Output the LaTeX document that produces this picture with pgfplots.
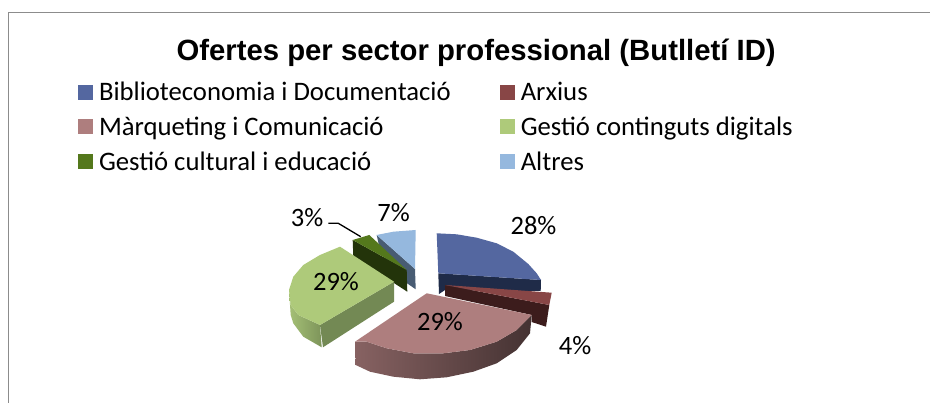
\documentclass[border=0pt]{standalone}
\usepackage{pgfplots}
\pgfplotsset{compat=1.18}
\usepackage{fontspec}
\setmainfont{Carlito}
\newfontfamily\arialfont{Liberation Sans}
\definecolor{cblue}{RGB}{84,103,160}
\definecolor{cblueS}{RGB}{31,43,72}
\definecolor{cred}{RGB}{136,70,70}
\definecolor{credS}{RGB}{60,28,28}
\definecolor{cpink}{RGB}{174,126,126}
\definecolor{cpinkL}{RGB}{135,98,98}
\definecolor{cpinkR}{RGB}{68,50,50}
\definecolor{cgreen}{RGB}{174,202,122}
\definecolor{cgreenL}{RGB}{165,192,118}
\definecolor{cgreenR}{RGB}{125,148,90}
\definecolor{cgreenF}{RGB}{115,137,84}
\definecolor{cdg}{RGB}{84,120,28}
\definecolor{cdgS}{RGB}{35,52,10}
\definecolor{clb}{RGB}{149,184,222}
\definecolor{clbS}{RGB}{72,92,115}
\begin{document}
\begin{tikzpicture}
\begin{axis}[
  scale only axis, width=930pt, height=403pt,
  xmin=0, xmax=930, ymin=0, ymax=403, y dir=reverse,
  axis lines=none, clip=true,
  title={\arialfont\bfseries Ofertes per sector professional (Butlletí ID)},
  title style={at={(axis description cs:0.512,0.853)}, anchor=center, font=\fontsize{29.3}{34}\selectfont},
  legend columns=2,
  legend style={draw=none, fill=none, at={(axis cs:78,80)}, anchor=north west, inner sep=0pt, outer sep=0pt,
    font=\fontsize{26.7}{30}\selectfont, cells={anchor=west},
    /tikz/row sep=10.7pt,
    /tikz/column 1/.style={column sep=4pt},
    /tikz/column 3/.style={column sep=4pt},
    /tikz/column 2/.style={column sep=47pt}},
  legend image code/.code={\fill[#1] (0pt,-7.5pt) rectangle (15pt,7.5pt);},
]
\addlegendimage{fill=cblue,draw=none}\addlegendentry{Biblioteconomia i Documentació}
\addlegendimage{fill=cred,draw=none}\addlegendentry{Arxius}
\addlegendimage{fill=cpink,draw=none}\addlegendentry{Màrqueting i Comunicació}
\addlegendimage{fill=cgreen,draw=none}\addlegendentry{Gestió continguts digitals}
\addlegendimage{fill=cdg,draw=none}\addlegendentry{Gestió cultural i educació}
\addlegendimage{fill=clb,draw=none}\addlegendentry{Altres}
% page
\addplot[forget plot, fill=white, draw=none] coordinates {(0,0)(930,0)(930,403)(0,403)} --cycle;
\addplot[forget plot, draw=black!45, line width=1.3pt] coordinates {(8.5,403)(8.5,12.5)(930,12.5)};
% blue
\addplot[forget plot, fill=cblueS, draw=none] coordinates {(438.3,273.3)(541,280)(540.7,291)(445,290)(439,294)} --cycle;
\addplot[forget plot, fill=cblue, draw=none] coordinates {(436.7,233.3)(456.7,234.3)(476.7,237.7)(496.7,243.3)(513.3,251.7)(528.3,264)(536.7,273.3)(541,280)(438.3,273.3)} --cycle;
% red
\addplot[forget plot, fill=credS, draw=none] coordinates {(445,285)(549.3,305)(546,326.7)(531.7,322)(531.7,315)(445,296)} --cycle;
\addplot[forget plot, fill=cred, draw=none] coordinates {(445,285)(551.7,292.7)(549.3,305)} --cycle;
% pink
\addplot[forget plot, left color=cpinkL, right color=cpinkR, draw=none] coordinates {(355,341.7)(355.7,365)(370,371.7)(393.3,376.7)(420,379.3)(446.7,377.3)(473.3,371.7)(496.7,363.3)(516.7,350)(530,333.3)(531.7,315)(516.7,330)(496.7,341.7)(470,350)(443.3,353.3)(413.3,353.3)(386.7,348.3)(366.7,341.7)} --cycle;
\addplot[forget plot, fill=cpink, draw=none] coordinates {(426.7,293.3)(531.7,315)(516.7,330)(496.7,341.7)(470,350)(443.3,353.3)(413.3,353.3)(386.7,348.3)(366.7,341.7)(355,341.7)} --cycle;
% light blue
\addplot[forget plot, fill=clbS, draw=none] coordinates {(376.7,235)(415,269)(415.7,289.3)(395,275)(380,250)} --cycle;
\addplot[forget plot, fill=clb, draw=none] coordinates {(376.7,235)(393.3,231.7)(415.7,230)(415,269)} --cycle;
% dark green
\addplot[forget plot, fill=cdgS, draw=none] coordinates {(352.7,240)(406.7,270)(407.3,291.7)(353.3,256.7)} --cycle;
\addplot[forget plot, fill=cdg, draw=none] coordinates {(352.7,240)(369.3,235)(406.7,270)} --cycle;
% green
\addplot[forget plot, left color=cgreenL, right color=cgreenR, draw=none] coordinates {(289,290)(290.7,315)(293.3,323.3)(303.3,336.7)(321.7,347.3)(320,325)(298.3,315)(290.7,305)} --cycle;
\addplot[forget plot, fill=cgreenF, draw=none] coordinates {(320,325)(394,281.7)(394,301.7)(323,347.3)} --cycle;
\addplot[forget plot, fill=cgreen, draw=none] coordinates {(394,281.7)(340,246.7)(320,255)(303.3,265)(293.3,276.7)(289,290)(290.7,305)(298.3,315)(320,325)} --cycle;
% leader
\addplot[forget plot, black, line width=1.3pt] coordinates {(328.3,223.3)(338.3,223.3)(360.7,236.7)};
% labels
\node[font=\fontsize{26.5}{30}\selectfont] at (axis cs:533.5,225.5) {28\%};
\node[font=\fontsize{26.5}{30}\selectfont] at (axis cs:575,346) {4\%};
\node[font=\fontsize{26.5}{30}\selectfont] at (axis cs:440,322) {29\%};
\node[font=\fontsize{26.5}{30}\selectfont] at (axis cs:336,282) {29\%};
\node[font=\fontsize{26.5}{30}\selectfont] at (axis cs:307,218) {3\%};
\node[font=\fontsize{26.5}{30}\selectfont] at (axis cs:393.5,212.5) {7\%};
\end{axis}
\end{tikzpicture}
\end{document}
